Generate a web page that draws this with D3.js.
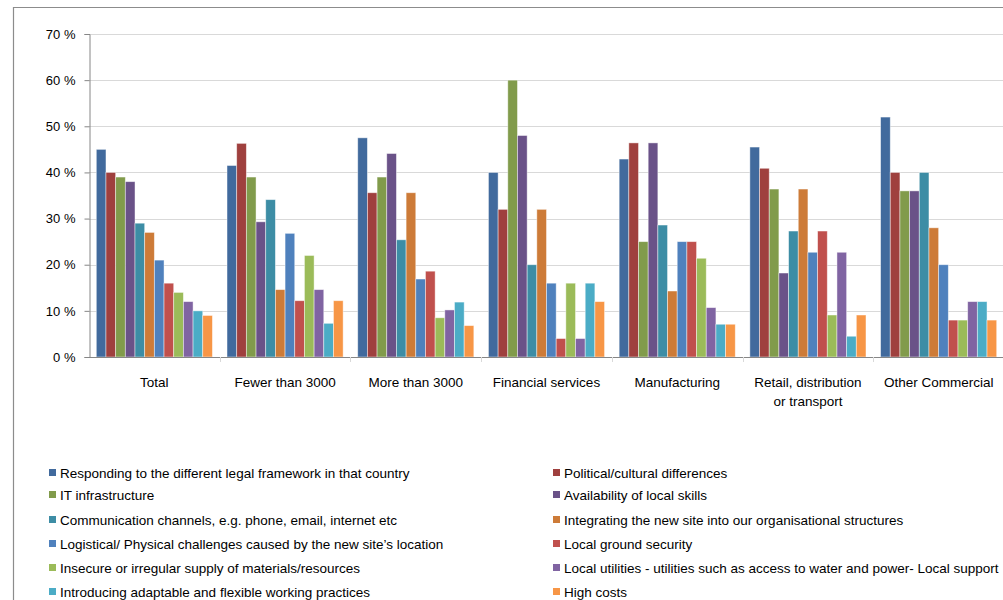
<!DOCTYPE html>
<html>
<head>
<meta charset="utf-8">
<script src="https://cdn.jsdelivr.net/npm/d3@7"></script>
<style>
  html, body { margin: 0; padding: 0; background: #fff; }
  svg { display: block; }
  text { font-family: "Liberation Sans", Arial, sans-serif; fill: #000; }
</style>
</head>
<body>
<svg id="chart" width="1003" height="600"></svg>
<script>
// Groups along the x axis
const categories = [
  "Total", "Fewer than 3000", "More than 3000", "Financial services",
  "Manufacturing", "Retail, distribution|or transport", "Other Commercial"
];

// Series (challenges) names
const seriesNames = [
  "Responding to the different legal framework in that country",
  "Political/cultural differences",
  "IT infrastructure",
  "Availability of local skills",
  "Communication channels, e.g. phone, email, internet etc",
  "Integrating the new site into our organisational structures",
  "Logistical/ Physical challenges caused by the new site\u2019s location",
  "Local ground security",
  "Insecure or irregular supply of materials/resources",
  "Local utilities - utilities such as access to water and power- Local support",
  "Introducing adaptable and flexible working practices",
  "High costs"
];

const seriesColors = [
  "#416A9D", "#9F403E", "#819B4B", "#6A5288", "#3D8DA5", "#CD7B38",
  "#4F81BD", "#C0504D", "#9BBB59", "#8064A2", "#4BACC6", "#F79646"
];

// Percentages per series, one value per category
const legalFramework   = [45, 41.5, 47.5, 40, 42.9, 45.5, 52];
const political        = [40, 46.3, 35.6, 32, 46.4, 40.9, 40];
const itInfrastructure = [39, 39.0, 39.0, 60, 25.0, 36.4, 36];
const localSkills      = [38, 29.3, 44.1, 48, 46.4, 18.2, 36];
const communication    = [29, 34.1, 25.4, 20, 28.6, 27.3, 40];
const integrating      = [27, 14.6, 35.6, 32, 14.3, 36.4, 28];
const logistical       = [21, 26.8, 16.9, 16, 25.0, 22.7, 20];
const groundSecurity   = [16, 12.2, 18.6, 4, 25.0, 27.3, 8];
const supply           = [14, 22.0, 8.5, 16, 21.4, 9.1, 8];
const utilities        = [12, 14.6, 10.2, 4, 10.7, 22.7, 12];
const flexibleWorking  = [10, 7.3, 11.9, 16, 7.1, 4.5, 12];
const highCosts        = [9, 12.2, 6.8, 12, 7.1, 9.1, 8];

const seriesValues = [
  legalFramework, political, itInfrastructure, localSkills, communication,
  integrating, logistical, groundSecurity, supply, utilities,
  flexibleWorking, highCosts
];

const yTicks = [0, 10, 20, 30, 40, 50, 60, 70];

const svg = d3.select("#chart");

// Outer chart frame (left and top edges visible)
svg.append("path")
  .attr("d", "M13.5,600 V7.5 H1003")
  .attr("fill", "none")
  .attr("stroke", "#8c8c8c")
  .attr("stroke-width", 1.2);

const plot = { left: 89, right: 1004, top: 34, bottom: 357 };

const x = d3.scaleBand()
  .domain(categories)
  .range([plot.left, plot.right])
  .paddingInner(0)
  .paddingOuter(0);

const xInner = d3.scaleBand()
  .domain(d3.range(seriesNames.length))
  .range([7.3, x.bandwidth() - 7.3])
  .padding(0);

const y = d3.scaleLinear()
  .domain([0, 70])
  .range([plot.bottom, plot.top]);

// Horizontal gridlines
svg.append("g")
  .selectAll("line")
  .data(yTicks.filter(d => d > 0))
  .join("line")
  .attr("x1", plot.left)
  .attr("x2", plot.right)
  .attr("y1", d => Math.round(y(d)) + 0.5)
  .attr("y2", d => Math.round(y(d)) + 0.5)
  .attr("stroke", "#d9d9d9")
  .attr("stroke-width", 1);

// Bars
const groups = svg.append("g")
  .selectAll("g")
  .data(categories)
  .join("g")
  .attr("transform", d => `translate(${x(d)},0)`);

groups.selectAll("rect")
  .data((d, ci) => seriesValues.map((vals, si) => ({ si, v: vals[ci] })))
  .join("rect")
  .attr("x", d => xInner(d.si))
  .attr("width", xInner.bandwidth())
  .attr("y", d => y(d.v))
  .attr("height", d => y(0) - y(d.v))
  .attr("fill", d => seriesColors[d.si])
  .attr("stroke", "#ffffff")
  .attr("stroke-opacity", 0.55)
  .attr("stroke-width", 0.8);

// Y axis
const yAxis = d3.axisLeft(y)
  .tickValues(yTicks)
  .tickSize(5)
  .tickPadding(9)
  .tickFormat(d => d + " %");

const yg = svg.append("g")
  .attr("transform", `translate(${plot.left + 0.5},0)`)
  .call(yAxis);
yg.select(".domain").attr("stroke", "#868686");
yg.selectAll(".tick line").attr("stroke", "#868686");
yg.selectAll(".tick text")
  .style("font-size", "13px")
  .style("font-family", "'Liberation Sans', Arial, sans-serif")
  .attr("fill", "#000");

// X axis line and category separators
svg.append("line")
  .attr("x1", plot.left)
  .attr("x2", plot.right)
  .attr("y1", plot.bottom + 0.5)
  .attr("y2", plot.bottom + 0.5)
  .attr("stroke", "#868686");

svg.append("g")
  .selectAll("line")
  .data(categories.slice(1))
  .join("line")
  .attr("x1", d => Math.round(x(d)) + 0.5)
  .attr("x2", d => Math.round(x(d)) + 0.5)
  .attr("y1", plot.bottom)
  .attr("y2", plot.bottom + 5)
  .attr("stroke", "#d9d9d9");

// Category labels (| splits lines)
const labels = svg.append("g")
  .selectAll("text")
  .data(categories)
  .join("text")
  .attr("x", d => x(d) + x.bandwidth() / 2)
  .attr("y", 387)
  .attr("text-anchor", "middle")
  .style("font-size", "13.5px");

labels.selectAll("tspan")
  .data(d => d.split("|"))
  .join("tspan")
  .attr("x", function () { return d3.select(this.parentNode).attr("x"); })
  .attr("dy", (d, i) => i === 0 ? 0 : 19)
  .text(d => d);

// Legend: two columns, six rows
const legendCols = [49, 553];
const legendRows = [473, 495, 520, 544, 568, 592];

const legend = svg.append("g")
  .selectAll("g")
  .data(seriesNames)
  .join("g")
  .attr("transform", (d, i) => `translate(${legendCols[i % 2]},${legendRows[Math.floor(i / 2)]})`);

legend.append("rect")
  .attr("x", 0)
  .attr("y", -4)
  .attr("width", 7)
  .attr("height", 7)
  .attr("fill", (d, i) => seriesColors[i]);

legend.append("text")
  .attr("x", 11)
  .attr("y", 0)
  .attr("dy", "0.35em")
  .style("font-size", "13.5px")
  .text(d => d);
</script>
</body>
</html>
